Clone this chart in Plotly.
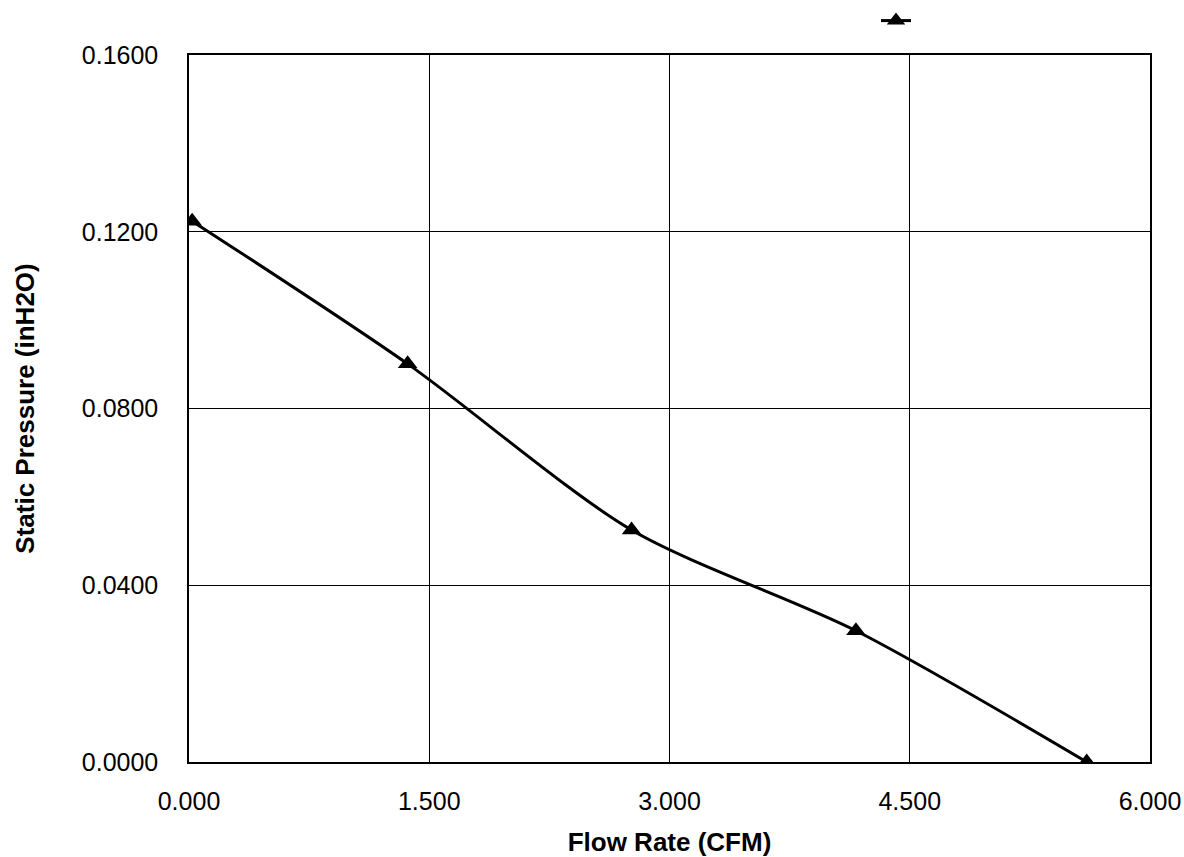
import plotly.graph_objects as go

flow_cfm = [0.02, 1.365, 2.763, 4.164, 5.605]
pressure_inh2o = [0.1224, 0.0901, 0.0525, 0.0297, 0.0000]
x_ticks = [0, 1.5, 3.0, 4.5, 6.0]
y_ticks = [0, 0.04, 0.08, 0.12, 0.16]

fig = go.Figure()
fig.add_trace(go.Scatter(
    x=flow_cfm, y=pressure_inh2o, mode="lines+markers", name=" ",
    line=dict(color="black", width=3, shape="spline", smoothing=0.8),
    marker=dict(symbol="triangle-up", size=17, color="black"),
    showlegend=True,
))

font = "Liberation Sans, Arial, sans-serif"
H = 857
top_px, bottom_px = 55, 762
fig.update_layout(
    width=1184, height=H,
    margin=dict(l=189, r=34, t=0, b=H - bottom_px),
    paper_bgcolor="white", plot_bgcolor="white",
    font=dict(family=font, color="black", size=25),
    showlegend=True,
    legend=dict(x=(876 - 189) / 961, y=1 - 5 / bottom_px, xanchor="left", yanchor="top",
                bgcolor="rgba(0,0,0,0)", font=dict(size=14)),
    xaxis=dict(range=[0, 6], tickvals=x_ticks, tickformat=".3f",
               showgrid=True, gridcolor="black", gridwidth=1,
               showline=True, linecolor="black", linewidth=1.5, mirror=True,
               ticks="", zeroline=False, ticklabelstandoff=16, automargin=False,
               title=dict(text="<b>Flow Rate (CFM)</b>", font=dict(size=26), standoff=19)),
    yaxis=dict(range=[0, 0.16], tickvals=y_ticks, tickformat=".4f",
               domain=[0, (bottom_px - top_px) / bottom_px],
               showgrid=True, gridcolor="black", gridwidth=1,
               showline=True, linecolor="black", linewidth=1.5, mirror=True,
               ticks="", zeroline=False, ticklabelstandoff=24, automargin=False,
               title=dict(text="<b>Static Pressure (inH2O)</b>", font=dict(size=26), standoff=40)),
)
fig.write_html(
    "out.html",
    config={"displayModeBar": False},
    post_script="document.documentElement.style.margin='0';document.body.style.margin='0';"
                "document.body.style.overflow='hidden';",
)
